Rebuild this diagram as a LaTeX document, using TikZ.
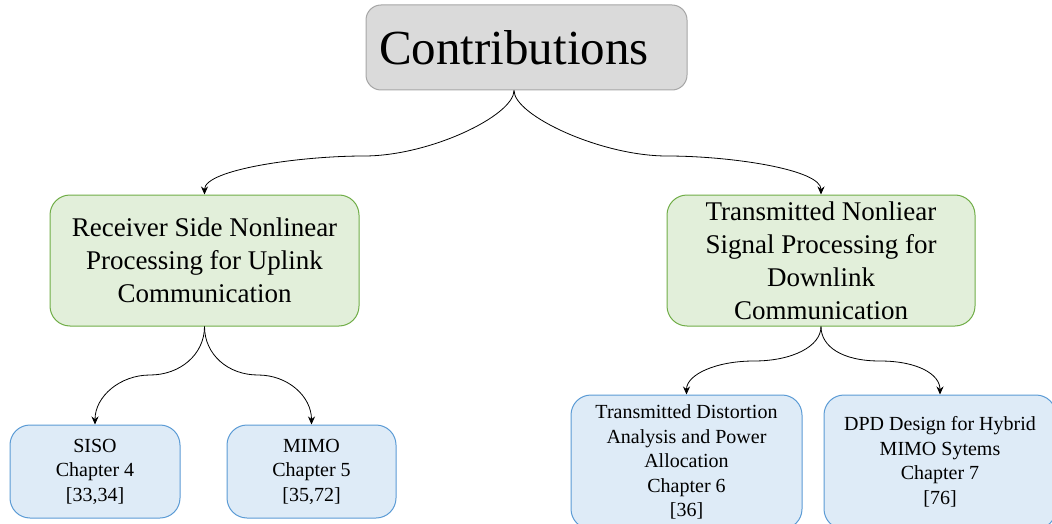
\documentclass[tikz,border=0pt]{standalone}
\usepackage{fontspec}
\setmainfont{Liberation Serif}
\usetikzlibrary{arrows.meta}
\definecolor{greyfill}{HTML}{DADADA}
\definecolor{greyline}{HTML}{A6A6A6}
\definecolor{greenfill}{HTML}{E2EFDA}
\definecolor{greenline}{HTML}{70AD47}
\definecolor{bluefill}{HTML}{DEEBF7}
\definecolor{blueline}{HTML}{5B9BD5}
\tikzset{
  topbox/.style={draw=greyline, fill=greyfill, line width=1pt, rounded corners=15pt,
    minimum width=321pt, minimum height=85pt, inner sep=0pt,
    font=\fontsize{49}{56}\selectfont},
  areabox/.style={draw=greenline, fill=greenfill, line width=1pt, rounded corners=20pt,
    minimum height=131pt, inner sep=0pt, align=center,
    font=\fontsize{27}{33}\selectfont},
  workbox/.style={draw=blueline, fill=bluefill, line width=1pt, rounded corners=20pt,
    inner sep=0pt, align=center,
    font=\fontsize{20}{24.5}\selectfont},
  link/.style={-{Stealth[length=8pt,width=7pt]}, line width=0.8pt, black}
}
\begin{document}
\begin{tikzpicture}[x=1pt, y=-1pt]
  \useasboundingbox (0,0) rectangle (1052,524);
  \clip (0,0) rectangle (1052,524);

  % root
  \node[topbox] (contrib) at (526.5,47.5) {\hspace*{-25pt}Contributions};

  % two research directions
  \node[areabox, minimum width=309pt] (recv) at (204.5,260.5)
    {Receiver Side Nonlinear\\Processing for Uplink\\Communication};
  \node[areabox, minimum width=308pt] (trans) at (821,260.5)
    {Transmitted Nonliear\\Signal Processing for\\Downlink\\Communication};

  % chapters
  \node[workbox, minimum width=170pt, minimum height=93pt] (siso) at (95,471.5)
    {SISO\\Chapter 4\\{[33,34]}};
  \node[workbox, minimum width=169pt, minimum height=93pt] (mimo) at (311.5,471.5)
    {MIMO\\Chapter 5\\{[35,72]}};
  \node[workbox, minimum width=231pt, minimum height=134pt] (tdist) at (686.5,462)
    {Transmitted Distortion\\Analysis and Power\\Allocation\\Chapter 6\\{[36]}};
  \node[workbox, minimum width=232pt, minimum height=134pt] (dpd) at (940,462)
    {DPD Design for Hybrid\\MIMO Sytems\\Chapter 7\\{[76]}};

  % connector anchors and the flat turning points of the curves
  \coordinate (root) at ([xshift=-12.5pt]contrib.south);
  \coordinate (tl) at (364,156);
  \coordinate (tr) at (667,156);
  \coordinate (ll) at (150,375);
  \coordinate (lr) at (258,375);
  \coordinate (rl) at (754,361);
  \coordinate (rr) at (880,361);

  % connectors
  \draw[link] (root) .. controls +(0,25) and +(66,0) .. (tl)
                     .. controls +(-64,0) and +(0,-25) .. (recv.north);
  \draw[link] (root) .. controls +(0,25) and +(-66,0) .. (tr)
                     .. controls +(64,0) and +(0,-25) .. (trans.north);
  \draw[link] (recv.south) .. controls +(0,28) and +(30,0) .. (ll)
                           .. controls +(-30,0) and +(0,-28) .. (siso.north);
  \draw[link] (recv.south) .. controls +(0,28) and +(-30,0) .. (lr)
                           .. controls +(30,0) and +(0,-28) .. (mimo.north);
  \draw[link] (trans.south) .. controls +(0,20) and +(38,0) .. (rl)
                            .. controls +(-38,0) and +(0,-20) .. (tdist.north);
  \draw[link] (trans.south) .. controls +(0,20) and +(-38,0) .. (rr)
                            .. controls +(38,0) and +(0,-20) .. (dpd.north);
\end{tikzpicture}
\end{document}
